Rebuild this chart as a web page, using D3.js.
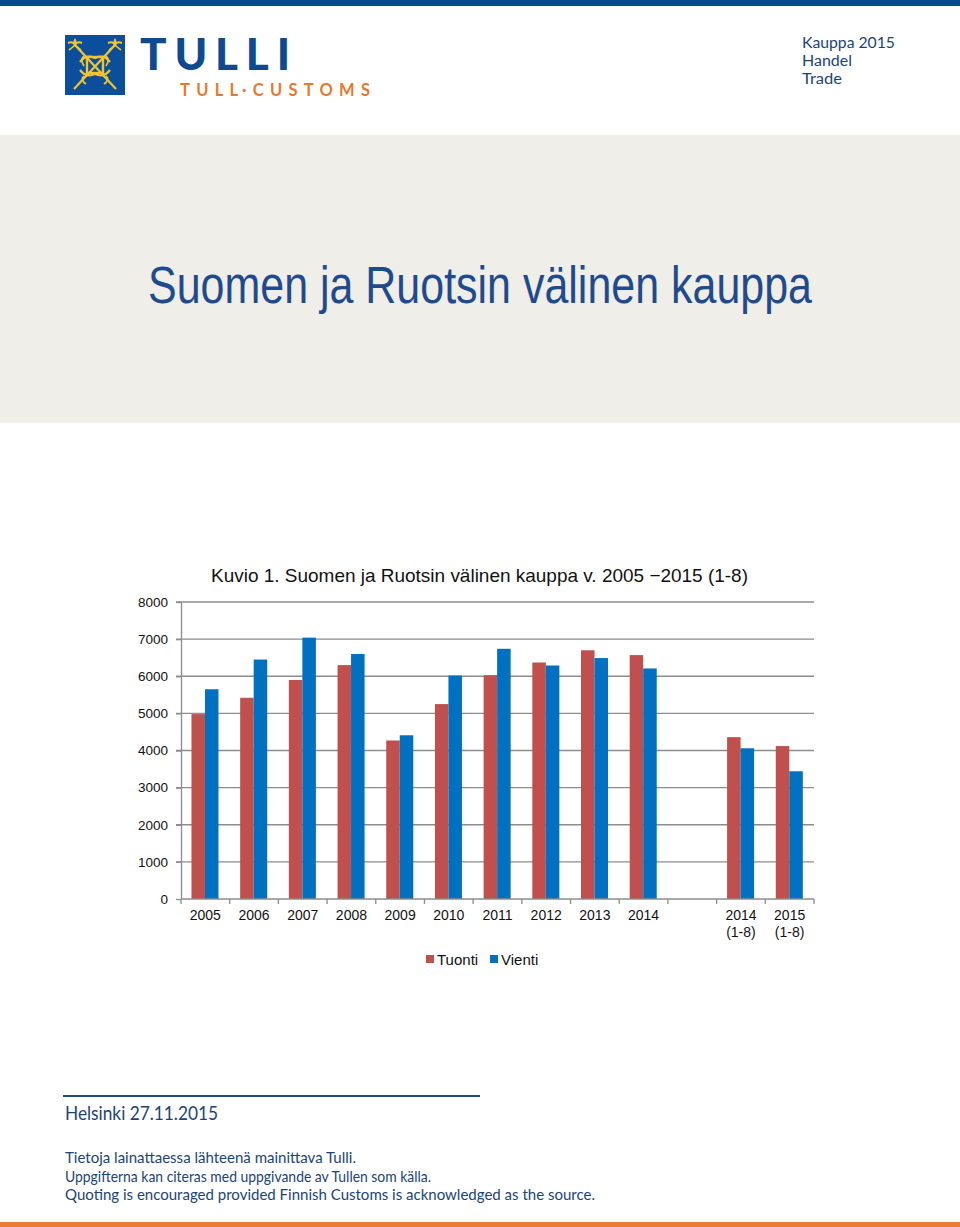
<!DOCTYPE html>
<html>
<head>
<meta charset="utf-8">
<script src="https://cdn.jsdelivr.net/npm/d3@7"></script>
<style>
  body { margin: 0; background: #fff; }
</style>
</head>
<body>
<div id="page"></div>
<script>
// datos del grafico (millones de euros)
var categories = ["2005", "2006", "2007", "2008", "2009", "2010", "2011", "2012", "2013", "2014", "", "2014 (1-8)", "2015 (1-8)"];
var tuonti = [4980, 5420, 5900, 6300, 4270, 5250, 6030, 6370, 6700, 6570, null, 4360, 4120];
var vienti = [5650, 6450, 7040, 6600, 4410, 6020, 6740, 6290, 6490, 6210, null, 4060, 3440];
var yTicks = [0, 1000, 2000, 3000, 4000, 5000, 6000, 7000, 8000];
var seriesNames = ["Tuonti", "Vienti"];
var seriesColors = ["#c0504d", "#0070c0"];

var W = 960, H = 1227;
var navy = "#1b4474";

var svg = d3.select("#page")
  .append("svg")
    .attr("width", W)
    .attr("height", H)
    .style("display", "block");

// cabecera
svg.append("rect").attr("x", 0).attr("y", 0).attr("width", W).attr("height", 6).attr("fill", "#0c4a94");

// logo
var logo = svg.append("g");
logo.append("rect").attr("x", 65).attr("y", 35).attr("width", 60).attr("height", 60).attr("fill", "#0b4f9c");
var gold = "#f2c431";
logo.append("line").attr("x1", 74).attr("y1", 89).attr("x2", 115).attr("y2", 45).attr("stroke", gold).attr("stroke-width", 2.2);
logo.append("line").attr("x1", 116).attr("y1", 89).attr("x2", 75).attr("y2", 45).attr("stroke", gold).attr("stroke-width", 2.2);
[[75, 45], [115, 45]].forEach(function(p) {
  var g = logo.append("g").attr("transform", "translate(" + p[0] + "," + p[1] + ")");
  g.append("path").attr("d", "M-7,-2 Q-2,-4 0,0 Q2,-4 7,-2").attr("fill", "none").attr("stroke", gold).attr("stroke-width", 2);
  g.append("path").attr("d", "M0,-7 Q-3,-3 0,0 Q3,-3 0,-7").attr("fill", gold);
  g.append("path").attr("d", "M-6,5 Q-2,2 0,0 Q2,2 6,5").attr("fill", "none").attr("stroke", gold).attr("stroke-width", 1.6);
});
logo.append("rect").attr("x", 87).attr("y", 57).attr("width", 16).attr("height", 16)
  .attr("fill", "none").attr("stroke", gold).attr("stroke-width", 2.4);
logo.append("path").attr("d", "M80,62 Q86,54 95,58 Q104,54 110,62 M80,70 Q86,78 95,74 Q104,78 110,70")
  .attr("fill", "none").attr("stroke", gold).attr("stroke-width", 2.2);
logo.append("path").attr("d", "M84,56 Q80,60 84,66 M106,56 Q110,60 106,66 M84,76 Q80,80 86,84 M106,76 Q110,80 104,84")
  .attr("fill", "none").attr("stroke", gold).attr("stroke-width", 1.8);

svg.append("text").attr("x", 140).attr("y", 70)
  .attr("textLength", 150).attr("lengthAdjust", "spacing")
  .style("font-family", "Lato, 'DejaVu Sans', sans-serif").style("font-weight", 900)
  .style("font-size", "44px").attr("fill", "#0e4a8f").text("TULLI");
svg.append("text").attr("x", 180).attr("y", 96)
  .attr("textLength", 190).attr("lengthAdjust", "spacing")
  .style("font-family", "Lato, 'DejaVu Sans', sans-serif").style("font-weight", 700)
  .style("font-size", "16.5px").attr("fill", "#e8792c").text("TULL\u00b7CUSTOMS");

var headLines = [["Kauppa 2015", 93], ["Handel", 50], ["Trade", 40]];
headLines.forEach(function(t, i) {
  svg.append("text").attr("x", 802).attr("y", 48 + i * 18)
    .attr("textLength", t[1]).attr("lengthAdjust", "spacingAndGlyphs")
    .style("font-family", "Lato, sans-serif").style("font-size", "14.8px")
    .attr("fill", navy).text(t[0]);
});

// banda gris con el titulo
svg.append("rect").attr("x", 0).attr("y", 135).attr("width", W).attr("height", 288).attr("fill", "#efeee9");
svg.append("text").attr("x", 148).attr("y", 303)
  .attr("textLength", 664).attr("lengthAdjust", "spacingAndGlyphs")
  .style("font-family", "'Liberation Sans', Arial, sans-serif").style("font-size", "51px")
  .attr("fill", "#1f4a8f").text("Suomen ja Ruotsin välinen kauppa");

// grafico
var margin = {top: 602, left: 181, right: W - 814},
    width = W - margin.left - margin.right,
    height = 899 - margin.top;

var chart = svg.append("g")
  .attr("transform", "translate(" + margin.left + "," + margin.top + ")")
  .style("font-family", "'Liberation Sans', Arial, sans-serif");

var x = d3.scaleBand().domain(categories).range([0, width]).padding(0);
var x1 = d3.scaleBand().domain(seriesNames).range([x.bandwidth() * 0.215, x.bandwidth() * 0.77]).padding(0);
var y = d3.scaleLinear().domain([0, 8000]).range([height, 0]);

chart.append("text")
  .attr("x", 30).attr("y", -20)
  .attr("textLength", 537).attr("lengthAdjust", "spacingAndGlyphs")
  .style("font-size", "18.5px").attr("fill", "#111")
  .text("Kuvio 1. Suomen ja Ruotsin välinen kauppa v. 2005 \u22122015 (1-8)");

// lineas de cuadricula
chart.selectAll(".grid")
  .data(yTicks.filter(function(d) { return d > 0; }))
  .enter()
  .append("line")
    .attr("x1", -5).attr("x2", width)
    .attr("y1", function(d) { return y(d); })
    .attr("y2", function(d) { return y(d); })
    .attr("stroke", "#8c8c8c").attr("stroke-width", 1.3);

// eje y
var yAxis = chart.append("g").call(d3.axisLeft(y).tickValues(yTicks).tickFormat(d3.format("d"))
  .tickSize(5).tickSizeOuter(0).tickPadding(8));
yAxis.select(".domain").attr("stroke", "#8c8c8c").attr("stroke-width", 1.3);
yAxis.selectAll(".tick line").attr("stroke", "#8c8c8c").attr("stroke-width", 1.3);
yAxis.selectAll(".tick text").style("font-size", "13.5px").attr("fill", "#111")
  .style("font-family", "'Liberation Sans', Arial, sans-serif");

// barras
var rows = categories.map(function(c, i) { return {cat: c, vals: [tuonti[i], vienti[i]]}; });
var groups = chart.selectAll(".grp")
  .data(rows)
  .enter()
  .append("g")
    .attr("transform", function(d) { return "translate(" + x(d.cat) + ",0)"; });
groups.selectAll("rect")
  .data(function(d) { return d.vals.map(function(v, j) { return {name: seriesNames[j], v: v, j: j}; }).filter(function(e) { return e.v != null; }); })
  .enter()
  .append("rect")
    .attr("x", function(d) { return x1(d.name); })
    .attr("width", x1.bandwidth())
    .attr("y", function(d) { return y(d.v); })
    .attr("height", function(d) { return height - y(d.v); })
    .attr("fill", function(d) { return seriesColors[d.j]; });

// eje x
var xAxis = chart.append("g").attr("transform", "translate(0," + height + ")");
xAxis.append("line").attr("x1", 0).attr("x2", width).attr("y1", 0).attr("y2", 0)
  .attr("stroke", "#8c8c8c").attr("stroke-width", 1.3);
xAxis.selectAll(".xt")
  .data(d3.range(categories.length + 1))
  .enter()
  .append("line")
    .attr("x1", function(i) { return i * x.step(); })
    .attr("x2", function(i) { return i * x.step(); })
    .attr("y1", 0).attr("y2", 5)
    .attr("stroke", "#8c8c8c").attr("stroke-width", 1.3);
var xl = xAxis.selectAll(".xl")
  .data(categories)
  .enter()
  .append("text")
    .attr("x", function(d) { return x(d) + x.bandwidth() / 2; })
    .attr("y", 21)
    .attr("text-anchor", "middle")
    .style("font-size", "14px").attr("fill", "#111");
xl.selectAll("tspan")
  .data(function(d) { return d.split(" "); })
  .enter()
  .append("tspan")
    .attr("x", function() { var p = d3.select(this.parentNode).datum(); return x(p) + x.bandwidth() / 2; })
    .attr("dy", function(d, i) { return i ? 17 : 0; })
    .text(function(d) { return d; });

// leyenda
var legend = chart.append("g").attr("transform", "translate(0," + (height + 66) + ")");
var lx = [245, 309];
seriesNames.forEach(function(n, i) {
  legend.append("rect").attr("x", lx[i]).attr("y", -10).attr("width", 8).attr("height", 8).attr("fill", seriesColors[i]);
  legend.append("text").attr("x", lx[i] + 11).attr("y", 0)
    .style("font-size", "15px").attr("fill", "#111").text(n);
});

// pie de pagina
svg.append("line").attr("x1", 63).attr("x2", 480).attr("y1", 1096).attr("y2", 1096)
  .attr("stroke", "#1f4e79").attr("stroke-width", 2);
svg.append("text").attr("x", 65).attr("y", 1120)
  .attr("textLength", 153).attr("lengthAdjust", "spacingAndGlyphs")
  .style("font-family", "Lato, sans-serif").style("font-size", "18.5px")
  .attr("fill", navy).text("Helsinki 27.11.2015");
var notes = [
  ["Tietoja lainattaessa lähteenä mainittava Tulli.", 291],
  ["Uppgifterna kan citeras med uppgivande av Tullen som källa.", 366],
  ["Quoting is encouraged provided Finnish Customs is acknowledged as the source.", 530]
];
notes.forEach(function(n, i) {
  svg.append("text").attr("x", 65).attr("y", 1163 + i * 18.5)
    .attr("textLength", n[1]).attr("lengthAdjust", "spacingAndGlyphs")
    .style("font-family", "Lato, sans-serif").style("font-size", "15px")
    .attr("fill", navy).text(n[0]);
});
svg.append("rect").attr("x", 0).attr("y", 1222).attr("width", W).attr("height", 5).attr("fill", "#e87d35");
</script>
</body>
</html>
